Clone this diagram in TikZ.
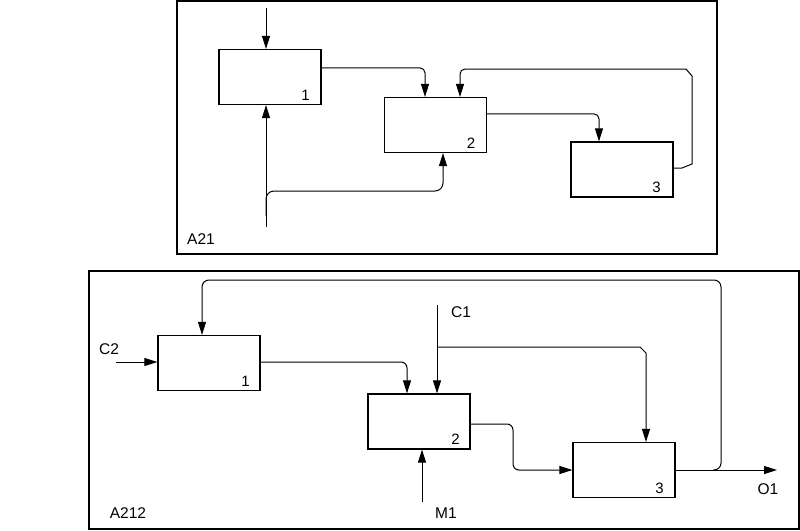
\documentclass[tikz,border=0pt]{standalone}
\usepackage{fontspec}
\setmainfont{Liberation Sans}
\usetikzlibrary{arrows.meta}
\begin{document}
\begin{tikzpicture}[x=1pt,y=-1pt,
  line width=1pt,
  framebox/.style={draw,line width=1.3pt},
  actbox/.style={draw,line width=1.2pt,minimum width=102pt,minimum height=55pt,inner sep=0pt},
  arr/.style={-{Triangle[length=13pt,width=8pt]}},
  num/.style={font=\fontsize{15}{17}\selectfont,inner sep=0pt},
  lab/.style={font=\fontsize{15.5}{17}\selectfont,inner sep=0pt}]
\useasboundingbox (0,0) rectangle (800,530);
\fill[white] (0,0) rectangle (800,530);
% ---------- top diagram A21 ----------
\draw[framebox] (177,1) rectangle (717,254);
\node[actbox] (t1) at (270,77) {};
\node[actbox] (t2) at (435.5,125) {};
\node[actbox] (t3) at (622,169.5) {};
\node[num] at ([shift={(-16pt,10pt)}]t1.south east) {1};
\node[num] at ([shift={(-16pt,10pt)}]t2.south east) {2};
\node[num] at ([shift={(-17pt,10pt)}]t3.south east) {3};
\node[lab] (la21) at (201,239) {A21};
\coordinate (tin) at (266,8);
\coordinate (tbot) at (266,227);
\coordinate (tj) at (266,216);
\draw[arr] (tin) -- (tin |- t1.north);
\draw[arr] (tbot) -- (tbot |- t1.south);
\draw[arr,rounded corners=8pt] (tj) |- (443,191) -- ([xshift=7.5pt]t2.south);
\draw[arr,rounded corners=5pt] ([yshift=-19pt]t1.north east) -| ([xshift=-10.5pt]t2.north);
\draw[arr,rounded corners=5pt] ([yshift=-17pt]t2.north east) -| ([xshift=-23pt]t3.north);
\draw[arr] ([yshift=1.5pt]t3.east) -- (682,168) -- (692,164) -- (692,76) -- (686,69)
  [rounded corners=5pt] -- (460,69) -- ([xshift=24.5pt]t2.north);
% ---------- bottom diagram A212 ----------
\draw[framebox] (89,271) rectangle (799,529);
\node[actbox] (b1) at (209,363) {};
\node[actbox] (b2) at (419,421.5) {};
\node[actbox] (b3) at (624,470) {};
\node[num] at ([shift={(-15pt,9.5pt)}]b1.south east) {1};
\node[num] at ([shift={(-15pt,10pt)}]b2.south east) {2};
\node[num] at ([shift={(-16pt,10pt)}]b3.south east) {3};
\node[lab] (la212) at (128,513) {A212};
\node[lab] (lc2) at (109,349) {C2};
\node[lab] (lc1) at (461,312) {C1};
\node[lab] (lm1) at (446,513) {M1};
\node[lab] (lo1) at (768,489) {O1};
\coordinate (c2) at (116,362);
\coordinate (c1) at (437,305);
\coordinate (cb) at (437,347);
\coordinate (m1) at (422,502);
\coordinate (o1) at (777,470);
\coordinate (oj) at (713,470);
\draw[arr] (c2) -- (c2 -| b1.west);
\draw[arr] (c1) -- (c1 |- b2.north);
\draw[arr] (cb) -- (640,347) -- (646,353) -- ([xshift=22pt]b3.north);
\draw[arr] (m1) -- (m1 |- b2.south);
\draw[arr,rounded corners=6pt] ([yshift=1pt]b1.east) -| ([xshift=-12pt]b2.north);
\draw[arr,rounded corners=6pt] ([yshift=-2.5pt]b2.east) -| (513,470) -- (b3.west);
\draw[arr] (b3.east) -- (o1);
\draw[arr,rounded corners=7pt] (oj) -| (721,280) -| ([xshift=-7pt]b1.north);
\end{tikzpicture}
\end{document}
